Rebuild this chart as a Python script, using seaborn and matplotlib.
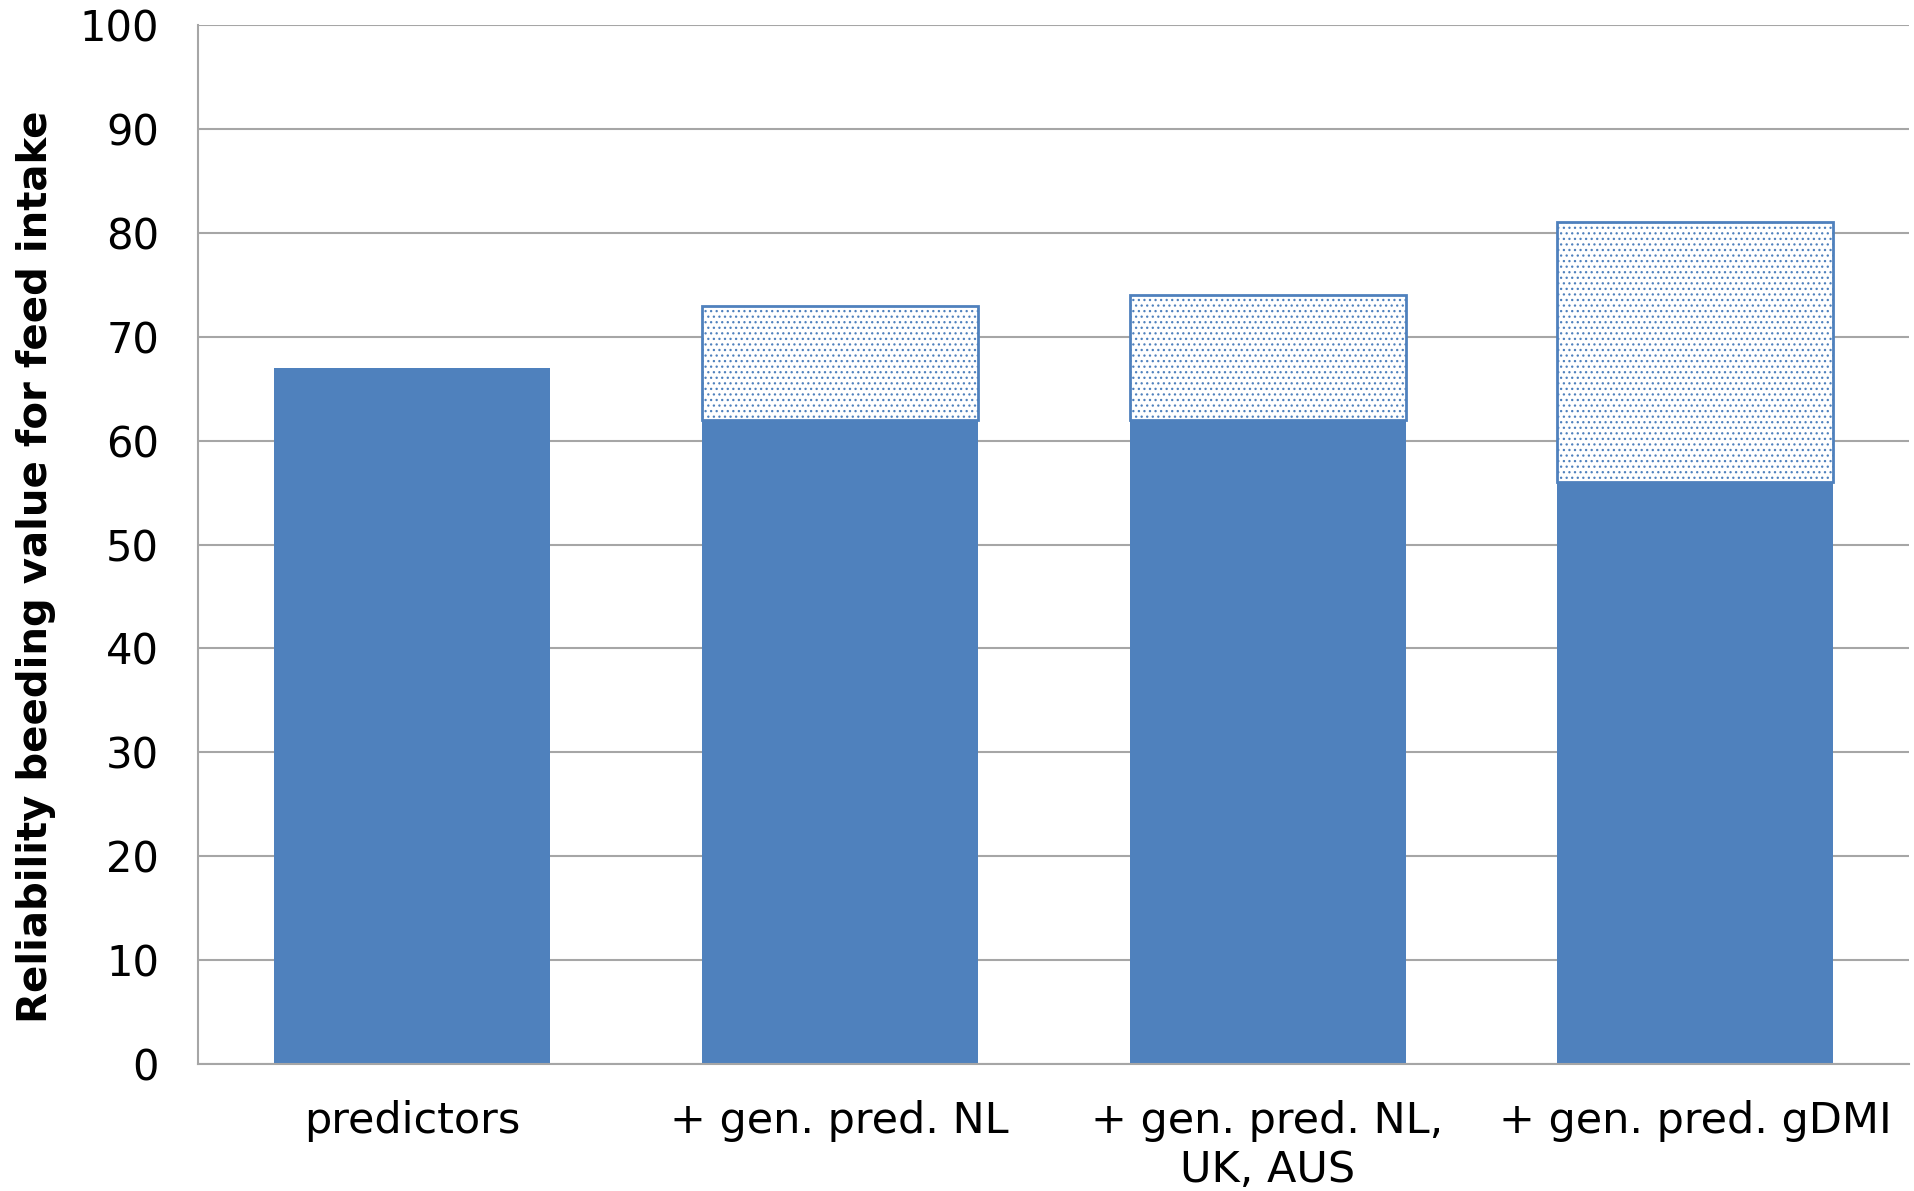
import matplotlib
matplotlib.use("Agg")
import matplotlib.pyplot as plt
import seaborn as sns
import pandas as pd
import numpy as np

# Reliability of the breeding value for feed intake, per predictor set
categories = ["predictors", "+ gen. pred. NL", "+ gen. pred. NL,\nUK, AUS", "+ gen. pred. gDMI"]
base_values = [67, 62, 62, 56]
total_values = [67, 73, 74, 81]
y_ticks = [0, 10, 20, 30, 40, 50, 60, 70, 80, 90, 100]

BLUE = "#4F81BD"
GRID = "#A6A6A6"

sns.set_theme(style="white")
plt.rcParams["font.family"] = ["DejaVu Sans"]
plt.rcParams["hatch.color"] = BLUE
plt.rcParams["hatch.linewidth"] = 0.9

df = pd.DataFrame({
    "category": categories,
    "base": base_values,
    "extra": np.array(total_values) - np.array(base_values),
})

fig = plt.figure(figsize=(19.15, 11.91), dpi=100)
ax = fig.add_axes([0.1034, 0.1066, 0.8936, 0.8724])

ax.set_axisbelow(True)
ax.yaxis.grid(True, color=GRID, linewidth=1.5)

sns.barplot(data=df, x="category", y="base", color=BLUE, saturation=1,
            width=0.645, linewidth=0, ax=ax, errorbar=None)

# gain from genomic predictors, stacked on the base bars
extra_df = df[df["extra"] > 0]
for _, row in extra_df.iterrows():
    idx = categories.index(row["category"])
    ax.bar(idx, row["extra"], bottom=row["base"], width=0.645,
           facecolor="white", edgecolor=BLUE, linewidth=2.0, hatch="...")

ax.set_ylim(0, 100)
ax.set_yticks(y_ticks)
ax.set_xlim(-0.5, len(categories) - 0.5)

ax.set_xlabel("")
ax.set_ylabel("Reliability beeding value for feed intake", fontsize=29,
              fontweight="bold", color="black")
ax.yaxis.set_label_coords(-0.083, 0.479)

ax.tick_params(axis="y", labelsize=30, pad=28, length=0, colors="black")
ax.tick_params(axis="x", labelsize=31, pad=26, length=0, colors="black")
for lbl in ax.get_xticklabels():
    lbl.set_linespacing(1.2)

for side in ["top", "right"]:
    ax.spines[side].set_visible(False)
for side in ["left", "bottom"]:
    ax.spines[side].set_color(GRID)
    ax.spines[side].set_linewidth(1.5)

fig.savefig("out.png", dpi=100, facecolor="white")
